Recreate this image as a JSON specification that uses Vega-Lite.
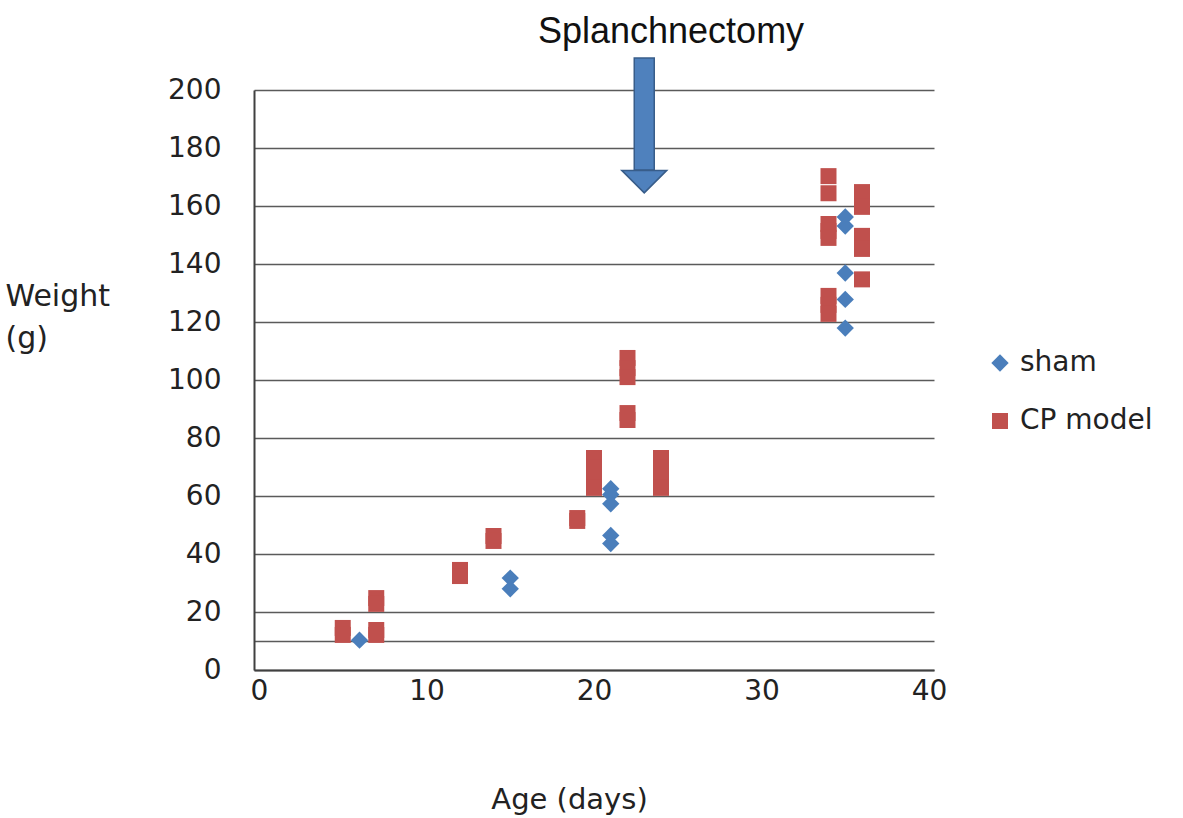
{
  "$schema": "https://vega.github.io/schema/vega-lite/v6.json",
  "width": 680,
  "height": 580,
  "autosize": {"type": "none"},
  "padding": {"left": 254, "top": 90, "right": 249, "bottom": 148},
  "background": "white",
  "config": {
    "view": {"stroke": null},
    "font": "DejaVu Sans",
    "axis": {"labelFont": "DejaVu Sans", "titleFont": "DejaVu Sans", "labelColor": "#222", "titleColor": "#222", "titleFontWeight": "normal"},
    "legend": {"labelFont": "DejaVu Sans", "labelColor": "#222"}
  },
  "datasets": {
    "pts": [
      {"age": 6, "weight": 10.3, "group": "sham"},
      {"age": 15, "weight": 31.7, "group": "sham"},
      {"age": 15, "weight": 28.0, "group": "sham"},
      {"age": 21, "weight": 62.5, "group": "sham"},
      {"age": 21, "weight": 60.5, "group": "sham"},
      {"age": 21, "weight": 57.3, "group": "sham"},
      {"age": 21, "weight": 46.4, "group": "sham"},
      {"age": 21, "weight": 43.6, "group": "sham"},
      {"age": 35, "weight": 156.2, "group": "sham"},
      {"age": 35, "weight": 153.1, "group": "sham"},
      {"age": 35, "weight": 136.9, "group": "sham"},
      {"age": 35, "weight": 127.8, "group": "sham"},
      {"age": 35, "weight": 117.9, "group": "sham"},
      {"age": 5, "weight": 14.5, "group": "CP model"},
      {"age": 5, "weight": 12.1, "group": "CP model"},
      {"age": 7, "weight": 24.8, "group": "CP model"},
      {"age": 7, "weight": 22.8, "group": "CP model"},
      {"age": 7, "weight": 13.8, "group": "CP model"},
      {"age": 7, "weight": 12.1, "group": "CP model"},
      {"age": 12, "weight": 34.5, "group": "CP model"},
      {"age": 12, "weight": 32.4, "group": "CP model"},
      {"age": 14, "weight": 46.2, "group": "CP model"},
      {"age": 14, "weight": 44.5, "group": "CP model"},
      {"age": 19, "weight": 52.4, "group": "CP model"},
      {"age": 19, "weight": 51.4, "group": "CP model"},
      {"age": 20, "weight": 73.1, "group": "CP model"},
      {"age": 20, "weight": 69.7, "group": "CP model"},
      {"age": 20, "weight": 66.2, "group": "CP model"},
      {"age": 20, "weight": 62.8, "group": "CP model"},
      {"age": 22, "weight": 107.6, "group": "CP model"},
      {"age": 22, "weight": 104.1, "group": "CP model"},
      {"age": 22, "weight": 101.0, "group": "CP model"},
      {"age": 22, "weight": 88.6, "group": "CP model"},
      {"age": 22, "weight": 86.2, "group": "CP model"},
      {"age": 24, "weight": 73.1, "group": "CP model"},
      {"age": 24, "weight": 69.7, "group": "CP model"},
      {"age": 24, "weight": 66.2, "group": "CP model"},
      {"age": 24, "weight": 62.8, "group": "CP model"},
      {"age": 34, "weight": 170.3, "group": "CP model"},
      {"age": 34, "weight": 164.4, "group": "CP model"},
      {"age": 34, "weight": 153.8, "group": "CP model"},
      {"age": 34, "weight": 151.4, "group": "CP model"},
      {"age": 34, "weight": 149.0, "group": "CP model"},
      {"age": 34, "weight": 129.0, "group": "CP model"},
      {"age": 34, "weight": 125.9, "group": "CP model"},
      {"age": 34, "weight": 122.8, "group": "CP model"},
      {"age": 36, "weight": 164.8, "group": "CP model"},
      {"age": 36, "weight": 159.7, "group": "CP model"},
      {"age": 36, "weight": 149.7, "group": "CP model"},
      {"age": 36, "weight": 145.2, "group": "CP model"},
      {"age": 36, "weight": 134.7, "group": "CP model"}
    ],
    "note": [
      {"age": 23, "top": 211, "bottom": 172.4, "head": 168.4, "labelAge": 24.6, "labelWeight": 220, "label": "Splanchnectomy"}
    ]
  },
  "layer": [
    {
      "data": {"name": "pts"},
      "mark": {"type": "point", "filled": true, "opacity": 1},
      "encoding": {
        "x": {
          "field": "age", "type": "quantitative",
          "scale": {"domain": [0, 40], "nice": false},
          "axis": {
            "values": [0, 10, 20, 30, 40], "grid": false, "ticks": false,
            "domainColor": "#404040", "domainWidth": 2,
            "labelFontSize": 28, "labelPadding": 7,
            "title": "Age (days)", "titleFontSize": 29,
            "titleX": 315, "titleY": 138, "titleBaseline": "alphabetic", "titleAnchor": "middle", "titleAlign": "center"
          }
        },
        "y": {
          "field": "weight", "type": "quantitative",
          "scale": {"domain": [0, 200], "nice": false},
          "axis": {
            "values": [0, 10, 20, 40, 60, 80, 100, 120, 140, 160, 180, 200],
            "labelExpr": "datum.value == 10 ? '' : datum.label",
            "grid": true, "gridColor": "#5a5a5a", "gridWidth": 1.6,
            "ticks": false,
            "domainColor": "#404040", "domainWidth": 2,
            "labelFontSize": 28, "labelPadding": 33,
            "title": ["Weight", "(g)"], "titleFontSize": 30, "titleAngle": 0,
            "titleAlign": "left", "titleBaseline": "alphabetic", "titleLineHeight": 42,
            "titleX": -249, "titleY": 215
          }
        },
        "color": {
          "field": "group", "type": "nominal",
          "scale": {"domain": ["sham", "CP model"], "range": ["#4A7EBB", "#C0504D"]},
          "legend": {
            "title": null, "orient": "none", "legendX": 732, "legendY": 259,
            "labelFontSize": 28, "symbolSize": 230, "labelOffset": 6, "rowPadding": 30
          }
        },
        "shape": {
          "field": "group", "type": "nominal",
          "scale": {"domain": ["sham", "CP model"], "range": ["diamond", "square"]},
          "legend": {
            "title": null, "orient": "none", "legendX": 732, "legendY": 259,
            "labelFontSize": 28, "symbolSize": 230, "labelOffset": 6, "rowPadding": 30
          }
        },
        "size": {
          "field": "group", "type": "nominal",
          "scale": {"domain": ["sham", "CP model"], "range": [300, 256]},
          "legend": null
        }
      }
    },
    {
      "data": {"name": "note"},
      "mark": {"type": "bar", "size": 20, "clip": false, "color": "#4F81BD", "stroke": "#385D8A", "strokeWidth": 1.5},
      "encoding": {
        "x": {"field": "age", "type": "quantitative"},
        "y": {"field": "top", "type": "quantitative"},
        "y2": {"field": "bottom"}
      }
    },
    {
      "data": {"name": "note"},
      "mark": {"type": "point", "shape": "M-1,-0.5L1,-0.5L0,0.5Z", "filled": true, "size": 2025, "clip": false, "color": "#4F81BD", "stroke": "#385D8A", "strokeWidth": 1.5, "opacity": 1},
      "encoding": {
        "x": {"field": "age", "type": "quantitative"},
        "y": {"field": "head", "type": "quantitative"}
      }
    },
    {
      "data": {"name": "note"},
      "mark": {"type": "text", "clip": false, "font": "Liberation Sans", "fontSize": 36, "color": "#111", "align": "center", "baseline": "middle"},
      "encoding": {
        "x": {"field": "labelAge", "type": "quantitative"},
        "y": {"field": "labelWeight", "type": "quantitative"},
        "text": {"field": "label"}
      }
    }
  ]
}
